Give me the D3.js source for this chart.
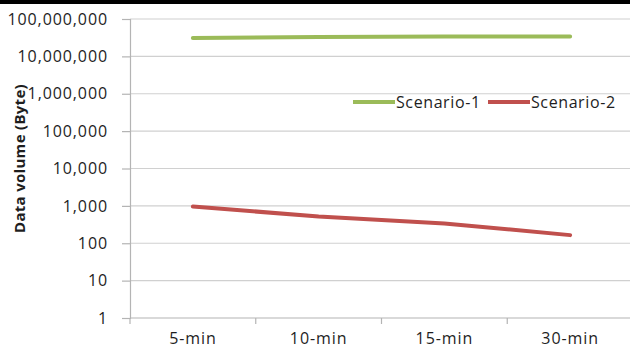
<!DOCTYPE html>
<html>
<head>
<meta charset="utf-8">
<script src="https://cdn.jsdelivr.net/npm/d3@7"></script>
<style>
  html, body { margin: 0; padding: 0; background: #fff; }
  svg { display: block; }
  text { font-family: "Open Sans", sans-serif; fill: #1e1e1e; }
</style>
</head>
<body>
<svg id="chart" width="630" height="352"></svg>
<script>
// Intervals on the x axis
const categories = ["5-min", "10-min", "15-min", "30-min"];
// Data volume per interval, in bytes
const scenario1 = [31000000, 33000000, 34000000, 34000000];
const scenario2 = [960, 520, 340, 165];
const seriesNames = ["Scenario-1", "Scenario-2"];
const yTicks = [1, 10, 100, 1000, 10000, 100000, 1000000, 10000000, 100000000];
const yTitle = "Data volume (Byte)";

const series = [
  { name: seriesNames[0], values: scenario1, color: "#9bbb59" },
  { name: seriesNames[1], values: scenario2, color: "#c0504d" }
];

const svg = d3.select("#chart");
const W = 630, H = 352;
const plot = { left: 130, right: 633, top: 19, bottom: 318 };
const labelFont = "16px";
const labelSpacing = "0.9px";

svg.append("rect").attr("width", W).attr("height", H).attr("fill", "#fff");
svg.append("rect").attr("width", W).attr("height", 4).attr("fill", "#000");

const x = d3.scaleBand().domain(categories).range([plot.left, plot.right]);
const y = d3.scaleLog().domain([1, 1e8]).range([plot.bottom, plot.top]);
const fmt = d3.format(",");

// Horizontal gridlines
svg.append("g").selectAll("line").data(yTicks.slice(1)).join("line")
  .attr("x1", plot.left).attr("x2", plot.right)
  .attr("y1", d => y(d)).attr("y2", d => y(d))
  .attr("stroke", "#d0d0d0").attr("stroke-width", 1.2);

// Y axis
const yAxis = svg.append("g").attr("transform", `translate(${plot.left},0)`)
  .call(d3.axisLeft(y).tickValues(yTicks).tickFormat(fmt).tickSize(8).tickPadding(14));
yAxis.attr("font-family", null).attr("font-size", null);
yAxis.select(".domain").attr("stroke", "#b4b4b4").attr("stroke-width", 1.2);
yAxis.selectAll(".tick line").attr("stroke", "#b4b4b4").attr("stroke-width", 1.2);
yAxis.selectAll(".tick text")
  .attr("fill", "#1e1e1e")
  .style("font-size", labelFont)
  .style("letter-spacing", labelSpacing);

// X axis with tick marks at category boundaries
const xAxisG = svg.append("g").attr("transform", `translate(0,${plot.bottom})`);
xAxisG.append("line").attr("x1", plot.left).attr("x2", plot.right)
  .attr("stroke", "#b4b4b4").attr("stroke-width", 1.2);
xAxisG.selectAll("line.tk").data(categories).join("line").attr("class", "tk")
  .attr("x1", d => x(d)).attr("x2", d => x(d)).attr("y1", 0).attr("y2", 6)
  .attr("stroke", "#b4b4b4").attr("stroke-width", 1.2);
xAxisG.selectAll("text").data(categories).join("text")
  .attr("x", d => x(d) + x.bandwidth() / 2).attr("y", 26)
  .attr("text-anchor", "middle")
  .style("font-size", labelFont).style("letter-spacing", labelSpacing)
  .text(d => d);

// Series lines
const line = d3.line()
  .x((d, i) => x(categories[i]) + x.bandwidth() / 2)
  .y(d => y(d));
svg.append("g").selectAll("path").data(series).join("path")
  .attr("d", s => line(s.values))
  .attr("fill", "none").attr("stroke", s => s.color)
  .attr("stroke-width", 4).attr("stroke-linecap", "round")
  .attr("stroke-linejoin", "round");

// Legend
const legendX = [353, 488];
const legend = svg.append("g").selectAll("g").data(series).join("g")
  .attr("transform", (s, i) => `translate(${legendX[i]},102)`);
legend.append("line").attr("x1", 0).attr("x2", 42)
  .attr("stroke", s => s.color).attr("stroke-width", 4);
legend.append("text").attr("x", 43).attr("y", 0).attr("dy", "0.35em")
  .style("font-size", labelFont).style("letter-spacing", "0.6px")
  .text(s => s.name);

// Y axis title
svg.append("text")
  .attr("transform", `translate(20,${(plot.top + plot.bottom) / 2 - 10}) rotate(-90)`)
  .attr("text-anchor", "middle").attr("dy", "0.35em")
  .style("font-size", "15px").style("font-weight", "bold").style("letter-spacing", "0.3px")
  .text(yTitle);
</script>
</body>
</html>
